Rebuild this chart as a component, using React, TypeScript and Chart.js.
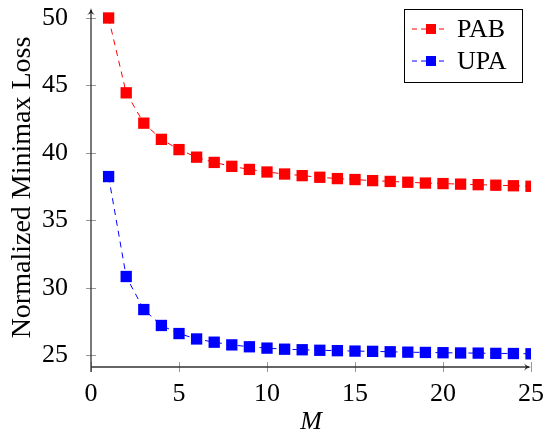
import { useEffect, useRef } from 'react';
import { Chart, registerables } from 'chart.js';

Chart.register(...registerables);

const mValues = [1, 2, 3, 4, 5, 6, 7, 8, 9, 10, 11, 12, 13, 14, 15, 16, 17, 18, 19, 20, 21, 22, 23, 24, 25];
const pabLoss = [50.0, 44.45, 42.2, 41.0, 40.24, 39.68, 39.29, 39.0, 38.77, 38.58, 38.43, 38.31, 38.19, 38.09, 38.02, 37.94, 37.88, 37.82, 37.76, 37.72, 37.68, 37.64, 37.6, 37.56, 37.52];
const upaLoss = [38.24, 30.83, 28.38, 27.2, 26.6, 26.2, 25.96, 25.76, 25.62, 25.52, 25.44, 25.4, 25.36, 25.33, 25.3, 25.28, 25.25, 25.22, 25.2, 25.18, 25.16, 25.15, 25.13, 25.12, 25.1];
const xTicks = [0, 5, 10, 15, 20, 25];
const yTicks = [25, 30, 35, 40, 45, 50];
const seriesNames = ['PAB', 'UPA'];
const seriesColors = ['#ff0000', '#0000ff'];

const FONT = "'Liberation Serif'";

// axes with arrow heads, ticks crossing the axis lines, legend box inside the plot
const axesPlugin = {
  id: 'texAxes',
  afterDraw(chart: any) {
    const { ctx, chartArea, scales } = chart;
    const { left, right, top, bottom } = chartArea;
    ctx.save();

    ctx.strokeStyle = '#999';
    ctx.lineWidth = 1;
    yTicks.forEach((v) => {
      const y = Math.round(scales.y.getPixelForValue(v)) + 0.5;
      ctx.beginPath();
      ctx.moveTo(left - 5, y);
      ctx.lineTo(left + 5, y);
      ctx.stroke();
    });
    xTicks.forEach((v) => {
      const x = Math.round(scales.x.getPixelForValue(v)) + 0.5;
      ctx.beginPath();
      ctx.moveTo(x, bottom - 5);
      ctx.lineTo(x, bottom + 5);
      ctx.stroke();
    });

    ctx.strokeStyle = '#333';
    ctx.fillStyle = '#222';
    ctx.lineWidth = 1.3;
    ctx.beginPath();
    ctx.moveTo(left, bottom + 5);
    ctx.lineTo(left, top + 2);
    ctx.moveTo(left, bottom);
    ctx.lineTo(right - 2, bottom);
    ctx.stroke();
    // arrow heads
    ctx.beginPath();
    ctx.moveTo(left, top);
    ctx.quadraticCurveTo(left - 1, top + 5, left - 4, top + 7);
    ctx.lineTo(left, top + 5);
    ctx.lineTo(left + 4, top + 7);
    ctx.quadraticCurveTo(left + 1, top + 5, left, top);
    ctx.fill();
    ctx.beginPath();
    ctx.moveTo(right, bottom);
    ctx.quadraticCurveTo(right - 5, bottom - 1, right - 7, bottom - 4);
    ctx.lineTo(right - 5, bottom);
    ctx.lineTo(right - 7, bottom + 4);
    ctx.quadraticCurveTo(right - 5, bottom + 1, right, bottom);
    ctx.fill();

    // legend
    const bx = 404;
    const by = 9;
    ctx.fillStyle = '#fff';
    ctx.fillRect(bx, by, 118, 73);
    ctx.strokeStyle = '#000';
    ctx.lineWidth = 1;
    ctx.strokeRect(bx + 0.5, by + 0.5, 118, 73);
    seriesNames.forEach((name, i) => {
      const y = by + 20 + i * 32;
      ctx.strokeStyle = seriesColors[i];
      ctx.lineWidth = 1;
      ctx.setLineDash([5, 4]);
      ctx.beginPath();
      ctx.moveTo(412, y);
      ctx.lineTo(446, y);
      ctx.stroke();
      ctx.setLineDash([]);
      ctx.fillStyle = seriesColors[i];
      ctx.fillRect(426, y - 5, 10, 10);
      ctx.fillStyle = '#000';
      ctx.font = '26px ' + FONT;
      ctx.textBaseline = 'middle';
      ctx.textAlign = 'left';
      ctx.fillText(name, 457, y + 1);
    });
    ctx.restore();
  },
};

function MinimaxChart() {
  const canvasRef = useRef<HTMLCanvasElement>(null);
  const chartRef = useRef<Chart | null>(null);

  useEffect(() => {
    document.body.style.margin = '0';
    if (!canvasRef.current) return;
    if (chartRef.current) chartRef.current.destroy();

    const makeSet = (label: string, values: number[], color: string) => ({
      label,
      data: values.map((v, i) => ({ x: mValues[i], y: v })),
      borderColor: color,
      backgroundColor: color,
      borderWidth: 1,
      borderDash: [6, 5],
      pointStyle: 'rect' as const,
      pointRadius: 8,
      pointBorderWidth: 0,
      tension: 0,
    });

    chartRef.current = new Chart(canvasRef.current, {
      type: 'line',
      data: {
        datasets: [
          makeSet(seriesNames[0], pabLoss, seriesColors[0]),
          makeSet(seriesNames[1], upaLoss, seriesColors[1]),
        ],
      },
      options: {
        responsive: false,
        animation: false,
        layout: { padding: { left: 0, right: 13, top: 5, bottom: 0 } },
        scales: {
          x: {
            type: 'linear',
            min: 0,
            max: 25,
            grid: { display: false },
            border: { display: false },
            afterBuildTicks: (scale: any) => {
              scale.ticks = xTicks.map((v) => ({ value: v }));
            },
            afterFit: (scale: any) => {
              scale.height = 73;
              scale.paddingLeft = 0;
              scale.paddingRight = 0;
            },
            ticks: { color: '#000', padding: 4, font: { family: FONT, size: 26 } },
            title: {
              display: true,
              text: 'M',
              color: '#000',
              padding: { top: 0, bottom: 2 },
              font: { family: FONT, size: 26, style: 'italic' },
            },
          },
          y: {
            type: 'linear',
            min: 24.12,
            max: 50.74,
            grid: { display: false },
            border: { display: false },
            afterBuildTicks: (scale: any) => {
              scale.ticks = yTicks.map((v) => ({ value: v }));
            },
            afterFit: (scale: any) => {
              scale.width = 91;
              scale.paddingTop = 0;
              scale.paddingBottom = 0;
            },
            ticks: { color: '#000', padding: 15, font: { family: FONT, size: 26 } },
            title: {
              display: true,
              text: 'Normalized Minimax Loss',
              color: '#000',
              padding: { top: 6, bottom: 0 },
              font: { family: FONT, size: 28 },
            },
          },
        },
        plugins: {
          legend: { display: false },
          tooltip: { enabled: false },
        },
      },
      plugins: [axesPlugin],
    });

    return () => {
      if (chartRef.current) {
        chartRef.current.destroy();
        chartRef.current = null;
      }
    };
  }, []);

  return <canvas ref={canvasRef} width={544} height={440} style={{ display: 'block' }} />;
}

export default function App() {
  return (
    <div>
      <MinimaxChart />
    </div>
  );
}
